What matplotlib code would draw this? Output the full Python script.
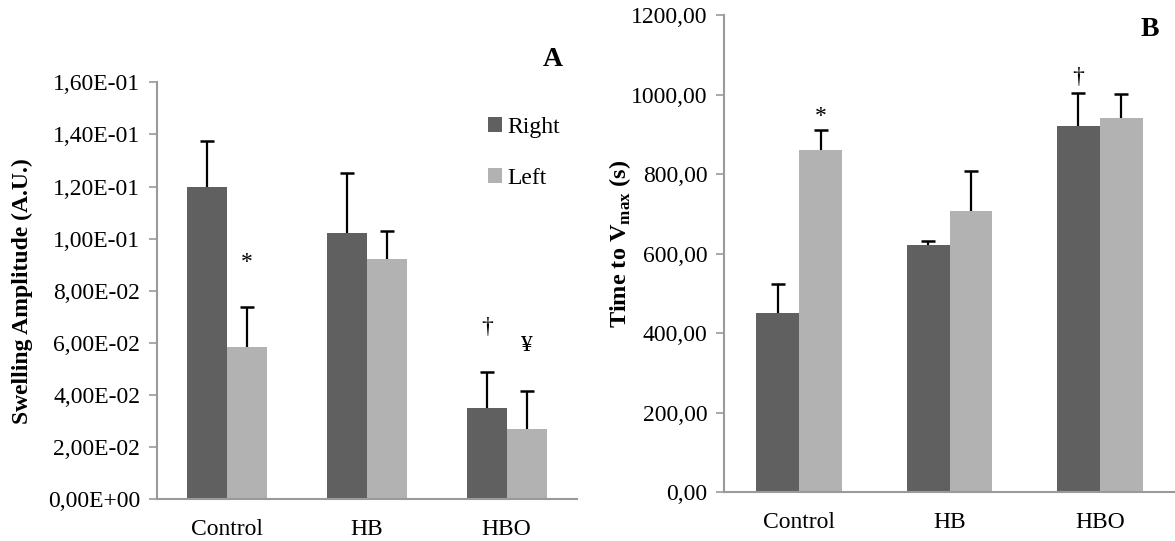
import matplotlib
matplotlib.use("Agg")
import matplotlib.pyplot as plt
import numpy as np

plt.rcParams['font.family'] = ['Liberation Serif', 'DejaVu Serif']
plt.rcParams['mathtext.fontset'] = 'custom'
plt.rcParams['mathtext.rm'] = 'Liberation Serif'
plt.rcParams['mathtext.bf'] = 'Liberation Serif:bold'

categories = ["Control", "HB", "HBO"]
series = ["Right", "Left"]

# Panel A: Swelling amplitude
amp_right = [0.1200, 0.1020, 0.0349]
amp_right_err = [0.0173, 0.0231, 0.0141]
amp_left = [0.0584, 0.0923, 0.0268]
amp_left_err = [0.0155, 0.0106, 0.0149]
amp_ticks = [0.0, 0.02, 0.04, 0.06, 0.08, 0.10, 0.12, 0.14, 0.16]
amp_ticklabels = ["0,00E+00", "2,00E-02", "4,00E-02", "6,00E-02", "8,00E-02",
                  "1,00E-01", "1,20E-01", "1,40E-01", "1,60E-01"]
amp_marks = [("*", 0, 1, 0.0907), ("†", 2, 0, 0.0659), ("¥", 2, 1, 0.0589)]

# Panel B: Time to Vmax
t_right = [452.0, 623.0, 920.0]
t_right_err = [72.0, 9.0, 83.0]
t_left = [860.0, 708.0, 942.0]
t_left_err = [52.0, 100.0, 59.0]
t_ticks = [0, 200, 400, 600, 800, 1000, 1200]
t_ticklabels = ["0,00", "200,00", "400,00", "600,00", "800,00", "1000,00", "1200,00"]
t_marks = [("*", 0, 1, 945.0), ("†", 2, 0, 1044.0)]

dark = "#606060"
light = "#b2b2b2"
spine_col = "#9a9a9a"
FS = 17
W, H = 1175, 541
fig = plt.figure(figsize=(W / 100, H / 100), dpi=100)

def px_axes(l, r, t, b):
    return fig.add_axes([l / W, (H - b) / H, (r - l) / W, (b - t) / H])

axA = px_axes(156.7, 576.7, 82.3, 499.3)
axB = px_axes(724.0, 1175.0, 15.0, 492.3)

bw = 0.2857
x = np.arange(len(categories))

def draw(ax, right, rerr, left, lerr, ticks, ticklabels, ylim, marks):
    b1 = ax.bar(x - bw / 2, right, bw, color=dark, label=series[0], zorder=2)
    b2 = ax.bar(x + bw / 2, left, bw, color=light, label=series[1], zorder=2)
    for xs, v, e in ((x - bw / 2, right, rerr), (x + bw / 2, left, lerr)):
        top = np.asarray(v) + np.asarray(e)
        ax.vlines(xs, v, top, colors='black', linewidth=1.6, zorder=3)
        ax.plot(xs, top, linestyle='none', marker='_', markersize=10,
                markeredgewidth=1.8, color='black', zorder=3)
    ax.set_xlim(-0.5, 2.5)
    ax.set_ylim(*ylim)
    ax.set_yticks(ticks)
    ax.set_yticklabels(ticklabels, fontsize=FS)
    ax.set_xticks(x)
    ax.set_xticklabels(categories, fontsize=FS)
    ax.tick_params(axis='x', length=0, pad=14)
    ax.tick_params(axis='y', direction='out', length=6, width=1.2, color=spine_col, pad=6)
    for s in ['top', 'right']:
        ax.spines[s].set_visible(False)
    for s in ['left', 'bottom']:
        ax.spines[s].set_color(spine_col)
        ax.spines[s].set_linewidth(1.5)
    ax.spines['bottom'].set_zorder(4)
    for sym, ci, si, yv in marks:
        xv = ci - bw / 2 if si == 0 else ci + bw / 2
        ax.text(xv, yv, sym, ha='center', va='center', fontsize=FS)
    return b1, b2

b1, b2 = draw(axA, amp_right, amp_right_err, amp_left, amp_left_err,
              amp_ticks, amp_ticklabels, (0, 0.16), amp_marks)
draw(axB, t_right, t_right_err, t_left, t_left_err,
     t_ticks, t_ticklabels, (0, 1200), t_marks)

axA.set_ylabel("Swelling Amplitude (A.U.)", fontsize=17, fontweight='bold')
axA.yaxis.set_label_coords((33 - 156.7) / 420, 0.5)
axB.set_ylabel(r"Time to V$_{\mathbf{max}}$ (s)", fontsize=17.5, fontweight='bold')
axB.yaxis.set_label_coords((633 - 724) / 451, 0.52)

axA.legend(handles=[b1, b2], loc='upper left', bbox_to_anchor=((488 - 156.7) / 420, (499.3 - 117) / 417),
           frameon=False, fontsize=FS, handlelength=0.6, handleheight=0.6,
           handletextpad=0.2, labelspacing=1.25, borderaxespad=0, borderpad=0)

fig.text(553 / W, 1 - 60 / H, "A", fontsize=20, fontweight='bold', ha='center', va='center')
fig.text(1150 / W, 1 - 30 / H, "B", fontsize=20, fontweight='bold', ha='center', va='center')

fig.savefig("out.png", dpi=100)
